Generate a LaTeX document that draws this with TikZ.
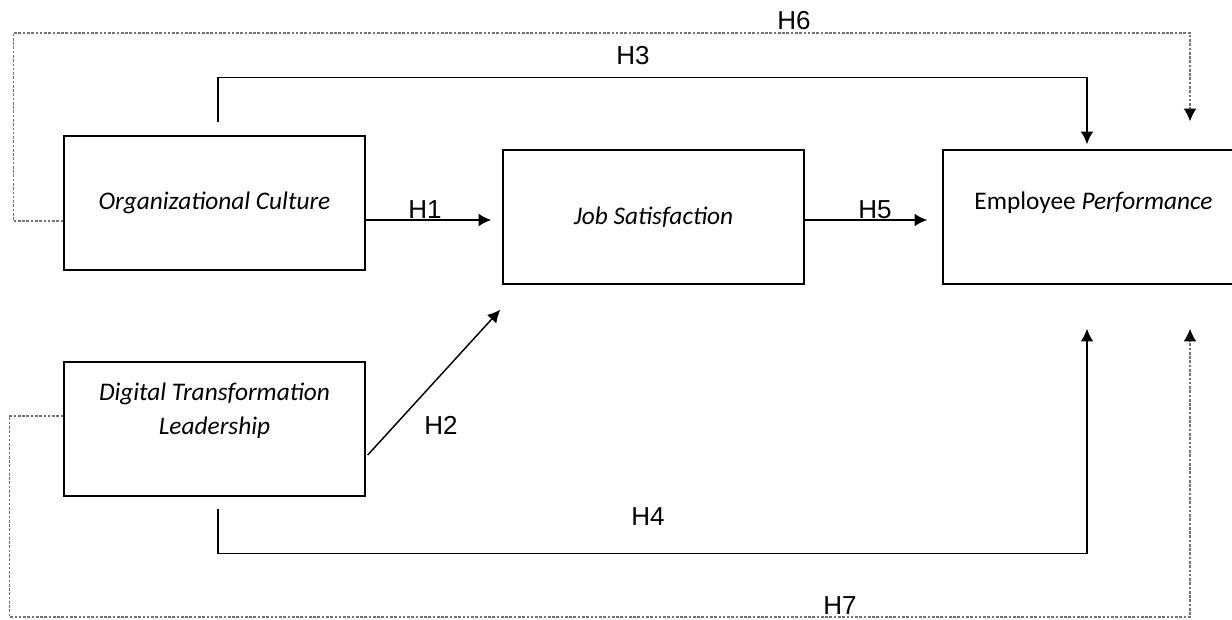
\documentclass[tikz,border=0pt]{standalone}
\usepackage{fontspec}
\setmainfont{Carlito}
\newfontfamily\hypfont{Liberation Sans}
\usetikzlibrary{positioning, calc, arrows.meta}

\begin{document}
\begin{tikzpicture}[x=0.75pt, y=-0.75pt,
  construct/.style={rectangle, 
      draw, 
      line width=1.1pt, 
      minimum width=225.75pt, 
      minimum height=100.5pt, 
      inner sep=0pt, 
      align=center, 
      font=\fontsize{19}{25.5}\selectfont},
  hyp/.style={font=\hypfont\fontsize{19.5}{22}\selectfont, inner sep=0pt},
  link/.style={-{Latex[length=9.5pt, width=9.5pt]}, line width=1.1pt},
  mediated/.style={-{Latex[length=9.5pt, width=9.5pt, black]}, 
      line width=0.8pt, 
      draw=black!55, 
      dash pattern=on 2pt off 1.2pt}]
  \useasboundingbox (0,0) rectangle (1232,620);

  \node [construct] (oc) at (214.5,203) {\textit{Organizational Culture}};

  \node [construct, text depth=31pt] (dtl) at (214.5,429) 
    {\textit{Digital Transformation}\\ \textit{Leadership}};

  \node [construct] (js) at (653.5,217) {\textit{Job Satisfaction}};

  \node [construct, text depth=25pt] (ep) at (1093.5,217) 
    {Employee \textit{Performance}};


% DIRECT PATHS

  \draw[link] ($(oc.east) + (0,17)$) -- ($(js.west) + (-11,3)$);
  \draw[link] ($(js.east) + (0,3)$) -- ($(ep.west) + (-15,3)$);

  \draw[link] ($(dtl.east) + (2,26)$) -- ($(js.south west) + (-2,25)$);

  \draw[link] ($(oc.north) + (3.5,-13)$) -- ++(0,-45) 
  -| ($(ep.north) + (-6.5,-5)$);

  \draw[link] ($(dtl.south) + (3.5,12)$) -- ++(0,45) 
  -| ($(ep.south) + (-6.5,44)$);

% MEDIATED PATHS

  \draw[mediated] ($(oc.west) + (0,18)$) 
  -| ($(oc.west) + (-50,-170)$) 
  -| ($(ep.north) + (96.5,-28)$);

  \draw[mediated] ($(dtl.west) + (0,-13)$) 
  -| ($(dtl.west) + (-54,188)$) 
  -| ($(ep.south) + (96.5,44)$);

% LABELS

  \node [hyp] (h1) at (425,210) {H1};
  \node [hyp] (h2) at (441,425) {H2};
  \node [hyp] (h3) at (633,56) {H3};
  \node [hyp] (h4) at (648,517) {H4};
  \node [hyp] (h5) at (875,210) {H5};
  \node [hyp] (h6) at (794,21) {H6};
  \node [hyp] (h7) at (840,606) {H7};

\end{tikzpicture}
\end{document}
